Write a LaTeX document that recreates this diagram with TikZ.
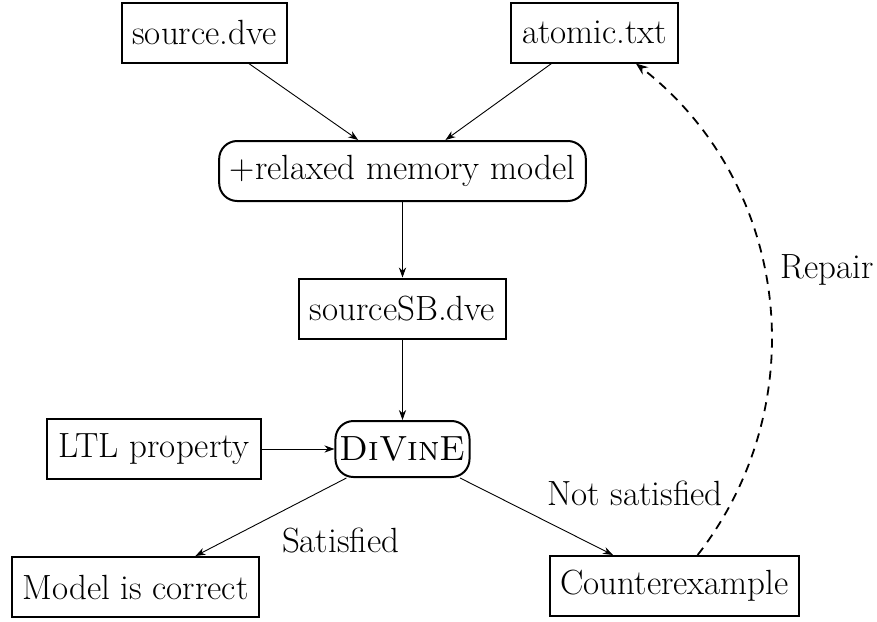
\documentclass[tikz,border=0pt]{standalone}
\usepackage{fontspec}
\usetikzlibrary{arrows.meta}
\begin{document}
\begin{tikzpicture}[x=0.5pt,y=0.5pt,
  every node/.style={font=\fontsize{17.5}{21}\selectfont},
  box/.style={draw, line width=1pt, inner sep=5.33pt, minimum height=30pt},
  rbox/.style={box, rounded corners=9pt},
  flow/.style={-{Stealth[length=5pt,width=3.6pt,inset=1.6pt]}, line width=0.45pt},
  fix/.style={dash pattern=on 4.5pt off 3.5pt, line width=0.9pt,
              -{Stealth[length=6pt,width=4.6pt,inset=2pt]}},
  lbl/.style={inner sep=5.33pt}]
\useasboundingbox (0,0) rectangle (877,-621);

% inputs
\node[box]  (src)  at (204.5,-32.5) {source.dve};
\node[box]  (atom) at (594.5,-32.5) {atomic.txt};
% transformation and model
\node[rbox] (rel)  at (402.5,-171)  {+relaxed memory model};
\node[box]  (sb)   at (402.5,-308.5) {sourceSB.dve};
% model checker
\node[rbox, inner xsep=2pt, minimum height=28pt] (div) at (402.5,-449) {\textsc{DiVinE}};
\node[box]  (ltl)  at (154,-449)    {LTL property};
% outcomes
\node[box]  (ok)   at (135.5,-587)  {Model is correct};
\node[box]  (cex)  at (674.5,-586)  {Counterexample};

\draw[flow] (src)  -- (rel);
\draw[flow] (atom) -- (rel);
\draw[flow] (rel)  -- (sb);
\draw[flow] (sb)   -- (div);
\draw[flow] (ltl)  -- (div);
\draw[flow] (div) -- node[lbl, anchor=north west] {Satisfied} (ok);
\draw[flow] (div) -- node[lbl, anchor=south west] {Not satisfied} (cex);
\draw[fix] (cex) to[bend right=45] node[lbl, anchor=south west] {Repair} (atom);
\end{tikzpicture}
\end{document}
